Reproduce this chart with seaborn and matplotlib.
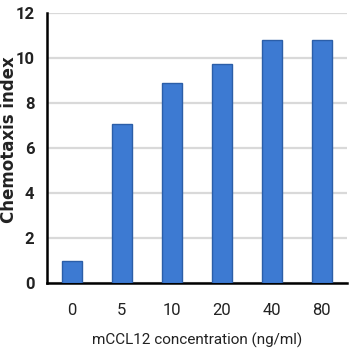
import matplotlib
matplotlib.use('Agg')
import matplotlib.pyplot as plt
from matplotlib.ticker import FixedLocator
from matplotlib import font_manager
import seaborn as sns
import pandas as pd
import numpy as np

# values
concentrations = ['0', '5', '10', '20', '40', '80']
chemotaxis_index = [1.0, 7.05, 8.9, 9.75, 10.8, 10.8]
y_ticks = [0, 2, 4, 6, 8, 10, 12]

df = pd.DataFrame({'conc': concentrations, 'index': chemotaxis_index})

sns.set_style('white')
names = {f.name for f in font_manager.fontManager.ttflist}
narrow = 'Liberation Sans Narrow' if 'Liberation Sans Narrow' in names else 'Roboto'
plt.rcParams['font.family'] = [narrow, 'DejaVu Sans']

fig = plt.figure(figsize=(3.58, 3.58), dpi=100)
ax = fig.add_axes([0.131, 0.209, 0.838, 0.755])

sns.barplot(data=df, x='conc', y='index', color='#3d7ad2', width=0.4,
            edgecolor='#2b5ea8', linewidth=1.0, saturation=1, ax=ax, zorder=3)

ax.set_ylim(0, 12)
ax.set_xlim(-0.5, len(concentrations) - 0.5)
ax.set_yticks(y_ticks)
ax.yaxis.grid(True, color='#d9d9d9', linewidth=1.6, zorder=0)
ax.set_axisbelow(True)

# tick marks sit between the categories on the x axis
ax.xaxis.set_minor_locator(FixedLocator(np.arange(-0.5, len(concentrations), 1.0)))
ax.tick_params(axis='x', which='major', length=0, pad=14, labelsize=12, colors='#222222')
ax.tick_params(axis='x', which='minor', length=5, width=1.6, direction='out', color='black')
ax.tick_params(axis='y', length=4, width=1.6, direction='out', color='black', pad=5,
               labelsize=12, colors='#222222')
for lab in ax.get_yticklabels():
    lab.set_fontweight('bold')

for side in ['top', 'right']:
    ax.spines[side].set_visible(False)
for side in ['left', 'bottom']:
    ax.spines[side].set_color('black')
    ax.spines[side].set_linewidth(1.8)

ax.set_xlabel('mCCL12 concentration (ng/ml)', fontsize=11, color='#222222', labelpad=11)
ax.set_ylabel('Chemotaxis index', fontsize=12, fontweight='bold', color='#222222',
              family='DejaVu Sans', va='center')
ax.yaxis.set_label_coords(-0.127, 0.53)

fig.savefig('out.png', dpi=100)
